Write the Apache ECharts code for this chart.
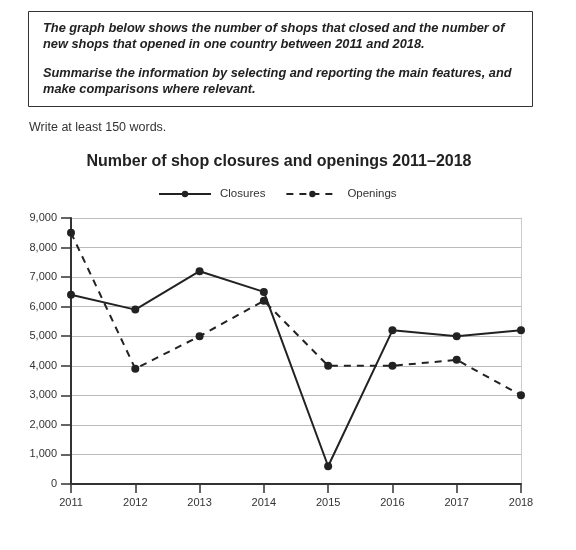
<!DOCTYPE html>
<html>
<head>
<meta charset="utf-8">
<script src="https://cdn.jsdelivr.net/npm/echarts@6/dist/echarts.min.js"></script>
<style>
  html, body {margin: 0; padding: 0; background: #fff;}
  #chart {width: 576px; height: 550px;}
</style>
</head>
<body>
<div id="chart"></div>
<script>
let years = ['2011', '2012', '2013', '2014', '2015', '2016', '2017', '2018'];
let closures = [6400, 5900, 7200, 6500, 600, 5200, 5000, 5200];
let openings = [8500, 3900, 5000, 6200, 4000, 4000, 4200, 3000];

let taskPara1 = 'The graph below shows the number of shops that closed and the number of\n' +
    'new shops that opened in one country between 2011 and 2018.';
let taskPara2 = 'Summarise the information by selecting and reporting the main features, and\n' +
    'make comparisons where relevant.';

let e1 = echarts.init(document.getElementById('chart'));
let font = 'Liberation Sans, Arial, sans-serif';

let option = {
    animation: false,
    textStyle: {fontFamily: font},
    graphic: [
        {
            type: 'rect', left: 28, top: 11,
            shape: {width: 504, height: 95},
            style: {fill: '#fff', stroke: '#333', lineWidth: 1}
        },
        {
            type: 'text', left: 43, top: 20,
            style: {text: taskPara1, font: 'italic bold 12.8px ' + font, lineHeight: 16, fill: '#222'}
        },
        {
            type: 'text', left: 43, top: 65,
            style: {text: taskPara2, font: 'italic bold 12.8px ' + font, lineHeight: 16, fill: '#222'}
        },
        {
            type: 'text', left: 29, top: 121,
            style: {text: 'Write at least 150 words.', font: '12.5px ' + font, fill: '#333'}
        }
    ],
    title: {
        text: 'Number of shop closures and openings 2011\u20132018',
        left: 274, top: 149, textAlign: 'center',
        textStyle: {fontSize: 16, fontWeight: 'bold', color: '#222', fontFamily: font}
    },
    legend: {
        top: 188, left: 158, padding: 0,
        itemWidth: 52, itemHeight: 8, itemGap: 20,
        textStyle: {fontSize: 11.5, color: '#333', fontFamily: font, padding: [0, 0, 0, 4]},
        data: ['Closures', 'Openings']
    },
    grid: {left: 71, right: 55, top: 218, bottom: 66, containLabel: false, show: false},
    xAxis: {
        type: 'category',
        data: years,
        boundaryGap: false,
        axisLine: {lineStyle: {color: '#333', width: 2}},
        axisTick: {show: true, length: 9, alignWithLabel: true, lineStyle: {color: '#333', width: 1.5}},
        axisLabel: {color: '#333', fontSize: 11, margin: 13},
        splitLine: {show: false}
    },
    yAxis: [
        {
            type: 'value', min: 0, max: 9000, interval: 1000,
            axisLine: {show: true, lineStyle: {color: '#333', width: 2}},
            axisTick: {show: true, length: 10, lineStyle: {color: '#333', width: 1.5}},
            axisLabel: {
                color: '#333', fontSize: 11, margin: 14,
                formatter: function (v) { return v.toLocaleString('en-US'); }
            },
            splitLine: {show: true, lineStyle: {color: '#bbb', width: 1}}
        },
        {
            type: 'value', min: 0, max: 9000, interval: 1000, position: 'right',
            axisLine: {show: true, lineStyle: {color: '#ccc', width: 1}},
            axisTick: {show: false}, axisLabel: {show: false}, splitLine: {show: false}
        }
    ],
    series: [
        {
            name: 'Closures', type: 'line', data: closures,
            symbol: 'circle', symbolSize: 8,
            itemStyle: {color: '#222'},
            lineStyle: {color: '#222', width: 2}
        },
        {
            name: 'Openings', type: 'line', data: openings,
            symbol: 'circle', symbolSize: 8,
            itemStyle: {color: '#222'},
            lineStyle: {color: '#222', width: 2, type: [7, 6]}
        }
    ]
};
e1.setOption(option);
</script>
</body>
</html>
